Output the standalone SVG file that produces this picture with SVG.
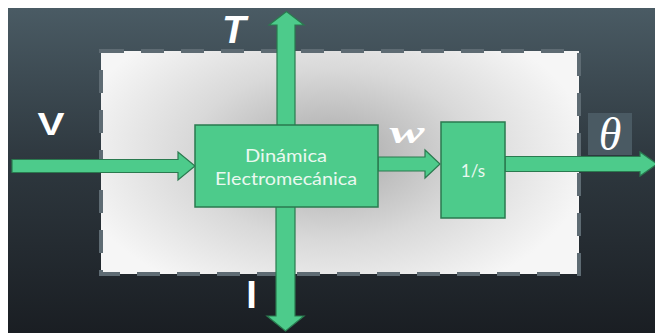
<svg xmlns="http://www.w3.org/2000/svg" width="655" height="333" viewBox="0 0 655 333">
<defs>
<linearGradient id="bg" x1="0" y1="0" x2="0" y2="1">
<stop offset="0" stop-color="#4a5b64"/>
<stop offset="0.45" stop-color="#2f3940"/>
<stop offset="1" stop-color="#1a1e23"/>
</linearGradient>
<radialGradient id="panel" cx="330" cy="155" r="260" gradientUnits="userSpaceOnUse" gradientTransform="translate(330 155) scale(1 0.6) translate(-330 -155)">
<stop offset="0" stop-color="#a8a8a8"/>
<stop offset="0.55" stop-color="#d9d9d9"/>
<stop offset="1" stop-color="#f6f6f6"/>
</radialGradient>
<style>
.blk{fill:#4dcb8b;stroke:#2a7a4f;stroke-width:1.5}
.arr{fill:#4dcb8b;stroke:#2a7a4f;stroke-width:1.2;stroke-linejoin:miter}
.in{font-family:"Lato","Noto Sans",sans-serif;fill:#eaf8f0;text-anchor:middle}
.lbl{fill:#ffffff}
</style>
</defs>
<rect x="0" y="0" width="655" height="333" fill="#ffffff"/>
<rect x="8" y="8" width="647" height="325" fill="url(#bg)"/>
<g id="boundary">
<rect x="101" y="51" width="478" height="223" fill="url(#panel)" stroke="#5e6b73" stroke-width="4" stroke-dasharray="23 17"/>
</g>
<g id="connectors">
<polygon class="arr" points="12,159.5 178,159.5 178,152 195,166 178,180 178,172.5 12,172.5"/>
<polygon class="arr" points="378,157 425,157 425,150 440,164 425,178 425,171 378,171"/>
<polygon class="arr" points="505,156.5 640,156.5 640,152 657,164 640,176 640,171.5 505,171.5"/>
<polygon class="arr" points="277,126 277,25 269,25 286.5,11.5 304,25 295,25 295,126"/>
<polygon class="arr" points="276,206 276,316 267,316 285.5,331 304,316 295,316 295,206"/>
</g>
<g id="dinamica">
<rect class="blk" x="195" y="125" width="183" height="82"/>
<text class="in" x="286" y="162" font-size="17" textLength="82" lengthAdjust="spacingAndGlyphs">Dinámica</text>
<text class="in" x="286" y="185" font-size="17" textLength="142" lengthAdjust="spacingAndGlyphs">Electromecánica</text>
</g>
<g id="integrador">
<rect class="blk" x="441" y="122" width="64" height="96"/>
<text class="in" x="473" y="177" font-size="17">1/s</text>
</g>
<g id="labels">
<text class="lbl" x="51" y="135" font-family="'Liberation Sans',sans-serif" font-weight="bold" font-size="32" text-anchor="middle" textLength="27" lengthAdjust="spacingAndGlyphs">V</text>
<text class="lbl" x="234" y="43" font-family="'Liberation Sans',sans-serif" font-weight="bold" font-style="italic" font-size="39" text-anchor="middle">T</text>
<text class="lbl" x="407" y="143" font-family="'Liberation Serif',serif" font-weight="bold" font-style="italic" font-size="32" text-anchor="middle" textLength="35" lengthAdjust="spacingAndGlyphs">w</text>
<rect x="588" y="113" width="44" height="42" fill="#4a5a63"/>
<text class="lbl" x="610" y="150" font-family="'Liberation Serif',serif" font-style="italic" font-size="46" text-anchor="middle">θ</text>
<text class="lbl" x="251.5" y="308" font-family="'Liberation Sans',sans-serif" font-weight="bold" font-size="38" text-anchor="middle">I</text>
</g>
</svg>
